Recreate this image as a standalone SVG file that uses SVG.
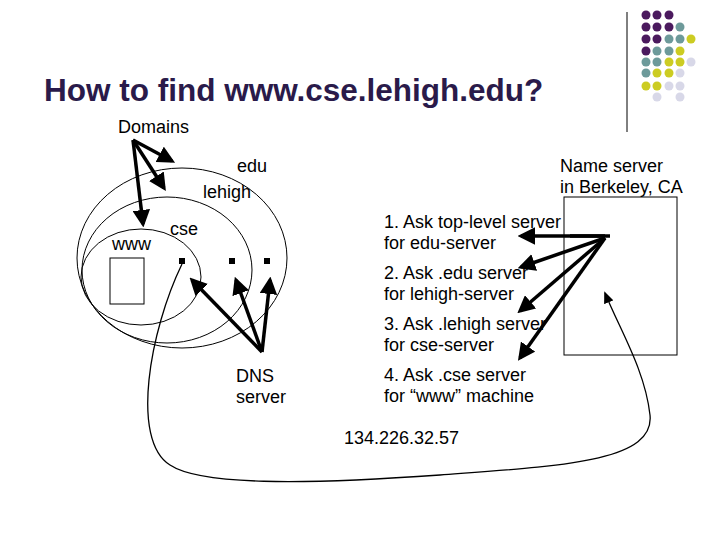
<svg xmlns="http://www.w3.org/2000/svg" width="720" height="540" viewBox="0 0 720 540">
<style>
text{font-family:"Liberation Sans",Arial,sans-serif;fill:#000}
.t{font-size:18px}
.thin{fill:none;stroke:#000;stroke-width:1}
.arr{fill:none;stroke:#000;stroke-width:3.5;marker-end:url(#ah)}
.p{fill:#4b1a5e}.g{fill:#6d9a9a}.y{fill:#cccc22}.l{fill:#d8d8e8}
</style>
<defs>
<marker id="ah" markerWidth="5" markerHeight="5" refX="4" refY="2.5" orient="auto" markerUnits="strokeWidth"><path d="M0,0L5,2.5L0,5z"/></marker>
<marker id="ah2" markerWidth="12" markerHeight="10" refX="10" refY="5" orient="auto" markerUnits="userSpaceOnUse"><path d="M0,0L12,5L0,10z"/></marker>
</defs>
<rect width="720" height="540" fill="#fff"/>
<g id="deco">
<line x1="627" y1="12" x2="627" y2="132" stroke="#000" stroke-width="1"/>
<circle class="p" cx="646" cy="15" r="4.5"/><circle class="p" cx="657" cy="15" r="4.5"/><circle class="p" cx="669" cy="15" r="4.5"/>
<circle class="p" cx="646" cy="27" r="4.5"/><circle class="p" cx="657" cy="27" r="4.5"/><circle class="p" cx="669" cy="27" r="4.5"/><circle class="g" cx="680" cy="27" r="4.5"/>
<circle class="p" cx="646" cy="39" r="4.5"/><circle class="p" cx="657" cy="39" r="4.5"/><circle class="g" cx="669" cy="39" r="4.5"/><circle class="g" cx="680" cy="39" r="4.5"/><circle class="y" cx="691" cy="39" r="4.5"/>
<circle class="p" cx="646" cy="51" r="4.5"/><circle class="g" cx="657" cy="51" r="4.5"/><circle class="g" cx="669" cy="51" r="4.5"/><circle class="y" cx="680" cy="51" r="4.5"/>
<circle class="g" cx="646" cy="62" r="4.5"/><circle class="g" cx="657" cy="62" r="4.5"/><circle class="y" cx="669" cy="62" r="4.5"/><circle class="y" cx="680" cy="62" r="4.5"/><circle class="l" cx="691" cy="62" r="4.5"/>
<circle class="g" cx="646" cy="73" r="4.5"/><circle class="y" cx="657" cy="73" r="4.5"/><circle class="y" cx="669" cy="73" r="4.5"/><circle class="l" cx="680" cy="73" r="4.5"/>
<circle class="y" cx="646" cy="86" r="4.5"/><circle class="y" cx="657" cy="86" r="4.5"/><circle class="l" cx="669" cy="86" r="4.5"/><circle class="l" cx="680" cy="86" r="4.5"/>
<circle class="l" cx="657" cy="97" r="4.5"/><circle class="l" cx="680" cy="97" r="4.5"/>
</g>
<text x="44" y="101" style="font-size:31.5px;font-weight:bold;fill:#2a1a4a">How to find www.cse.lehigh.edu?</text>
<g id="domains"><text class="t" x="118" y="133">Domains</text></g>
<g id="edu"><ellipse class="thin" cx="182" cy="258" rx="105" ry="90"/><text class="t" x="237" y="172">edu</text></g>
<g id="lehigh"><ellipse class="thin" cx="167" cy="270" rx="85" ry="73"/><text class="t" x="203" y="198">lehigh</text></g>
<g id="cse"><ellipse class="thin" cx="141" cy="277" rx="60" ry="48"/><text class="t" x="170" y="235">cse</text></g>
<g id="www"><text class="t" x="112" y="250">www</text><rect class="thin" x="110" y="258" width="34" height="46"/></g>
<g id="servers">
<rect x="179" y="258" width="6" height="6"/><rect x="229" y="258" width="6" height="6"/><rect x="264" y="258" width="6" height="6"/>
</g>
<g id="dns"><text class="t" x="236" y="382">DNS</text><text class="t" x="236" y="403">server</text></g>
<g id="berkeley"><text class="t" x="560" y="172">Name server</text><text class="t" x="560" y="193">in Berkeley, CA</text><rect class="thin" x="564" y="197" width="113" height="158"/></g>
<g id="steps">
<text class="t" x="384" y="228">1. Ask top-level server</text><text class="t" x="384" y="249">for edu-server</text>
<text class="t" x="384" y="279">2. Ask .edu server</text><text class="t" x="384" y="300">for lehigh-server</text>
<text class="t" x="384" y="330">3. Ask .lehigh server</text><text class="t" x="384" y="351">for cse-server</text>
<text class="t" x="384" y="381">4. Ask .cse server</text><text class="t" x="384" y="402">for “www” machine</text>
<text class="t" x="344" y="444">134.226.32.57</text>
</g>
<g id="connectors">
<path class="arr" d="M133,140L172,161"/>
<path class="arr" d="M133,140L164,188"/>
<path class="arr" d="M133,140L143,224"/>
<path class="arr" d="M262,352L192,280"/>
<path class="arr" d="M262,352L236,280"/>
<path class="arr" d="M262,352L270,280"/>
<path d="M610,236L570,236" stroke="#000" stroke-width="3.5"/>
<path class="arr" d="M605,236L521,236"/>
<path class="arr" d="M605,238L521,267"/>
<path class="arr" d="M605,238L520,311"/>
<path class="arr" d="M605,238L520,358"/>
<path d="M182,264C150,330 130,440 170,465C200,485 300,485 440,475C560,466 655,462 650,415C645,370 620,330 605,293" fill="none" stroke="#000" stroke-width="1.3" marker-end="url(#ah2)"/>
</g>
</svg>
